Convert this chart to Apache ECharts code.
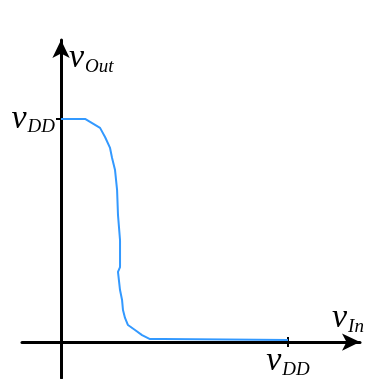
<!DOCTYPE html>
<html>
<head>
<meta charset="utf-8">
<script src="https://cdn.jsdelivr.net/npm/echarts@6/dist/echarts.min.js"></script>
<style>
  html, body { margin: 0; padding: 0; background: #fff; }
  #chart { width: 365px; height: 379px; }
</style>
</head>
<body>
<div id="chart"></div>
<script>
// Inverter voltage transfer characteristic, normalised to V_DD = 1
const vIn  = [0, 0.106, 0.128, 0.172, 0.194, 0.216, 0.225, 0.238, 0.247, 0.251, 0.260, 0.260, 0.251, 0.260, 0.269, 0.273, 0.282, 0.295, 0.326, 0.357, 0.392, 0.449, 1.0];
const vOut = [1.0, 1.0, 0.987, 0.960, 0.919, 0.870, 0.825, 0.771, 0.682, 0.570, 0.457, 0.336, 0.314, 0.233, 0.188, 0.143, 0.108, 0.076, 0.054, 0.031, 0.013, 0.013, 0.009];
const tickValues = [1];

const serif = '"Liberation Serif", "DejaVu Serif", serif';
const richV = {
  v: { fontFamily: serif, fontStyle: 'italic', fontSize: 34, color: '#000' },
  s: { fontFamily: serif, fontStyle: 'italic', fontSize: 19, color: '#000', verticalAlign: 'bottom', padding: [17, 0, 0, 1] }
};
const ddLabel = () => '{v|v}{s|DD}';

const chart = echarts.init(document.getElementById('chart'), null, { renderer: 'canvas' });
chart.setOption({
  animation: false,
  grid: [
    // full extent of the axis lines (they cross at the origin)
    { left: 22, right: 5, top: 40, bottom: 1, outerBoundsMode: 'none' },
    // positive quadrant, used for the V_DD ticks and labels
    { left: 61, right: 5, top: 40, bottom: 37, outerBoundsMode: 'none' }
  ],
  xAxis: [{
    gridIndex: 0, type: 'value', min: -0.172, max: 1.317,
    splitLine: { show: false }, axisTick: { show: false }, axisLabel: { show: false },
    axisLine: { onZero: true, symbol: ['none', 'arrow'], symbolSize: [13, 18], lineStyle: { color: '#000', width: 3 } }
  }, {
    gridIndex: 1, type: 'value', min: 0, max: 1.317, offset: -5,
    splitLine: { show: false }, axisLine: { show: false },
    axisTick: { show: true, customValues: tickValues, length: 10, lineStyle: { color: '#000', width: 2 } },
    axisLabel: { customValues: tickValues, formatter: ddLabel, rich: richV, margin: 6 }
  }],
  yAxis: [{
    gridIndex: 0, type: 'value', min: -0.161, max: 1.354,
    splitLine: { show: false }, axisTick: { show: false }, axisLabel: { show: false },
    axisLine: { onZero: true, symbol: ['none', 'arrow'], symbolSize: [13, 18], lineStyle: { color: '#000', width: 3 } }
  }, {
    gridIndex: 1, type: 'value', min: 0, max: 1.354,
    splitLine: { show: false }, axisLine: { show: false },
    axisTick: { show: true, customValues: tickValues, length: 5, lineStyle: { color: '#000', width: 2 } },
    axisLabel: { customValues: tickValues, formatter: ddLabel, rich: richV, margin: 6 }
  }],
  graphic: [
    { type: 'text', left: 69, top: 41, style: { text: '{v|v}{s|Out}', rich: richV } },
    { type: 'text', left: 332, top: 301, style: { text: '{v|v}{s|In}', rich: richV } }
  ],
  series: [{
    type: 'line',
    xAxisIndex: 1, yAxisIndex: 1,
    data: vIn.map((x, i) => [x, vOut[i]]),
    showSymbol: false,
    clip: false,
    lineStyle: { color: '#3399ff', width: 2 },
    z: 3
  }]
});
</script>
</body>
</html>
